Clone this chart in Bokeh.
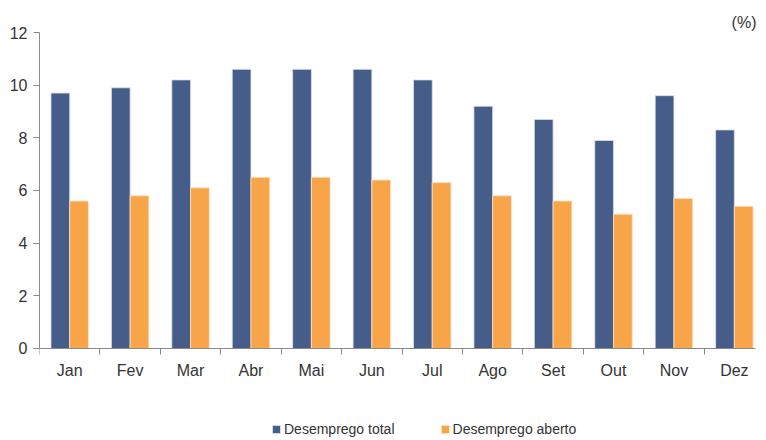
from bokeh.plotting import figure
from bokeh.models import Range1d, FixedTicker, Legend, LegendItem, ColumnDataSource
from bokeh.embed import file_html
from bokeh.resources import INLINE

months = ["Jan", "Fev", "Mar", "Abr", "Mai", "Jun", "Jul", "Ago", "Set", "Out", "Nov", "Dez"]
total = [9.7, 9.9, 10.2, 10.6, 10.6, 10.6, 10.2, 9.2, 8.7, 7.9, 9.6, 8.3]
aberto = [5.6, 5.8, 6.1, 6.5, 6.5, 6.4, 6.3, 5.8, 5.6, 5.1, 5.7, 5.4]
y_ticks = [0, 2, 4, 6, 8, 10, 12]

BLUE = "#465C89"
ORANGE = "#F8A54A"
FONT = "Liberation Sans"
bw = 0.31

centers = [i + 0.5 for i in range(len(months))]
src = ColumnDataSource(dict(
    xt=[c - bw / 2 for c in centers],
    xa=[c + bw / 2 for c in centers],
    total=total,
    aberto=aberto,
))

p = figure(frame_width=716, frame_height=405, output_backend="svg", toolbar_location=None,
           x_range=Range1d(0, 11.85), y_range=Range1d(-3.38, 12),
           title="(%)", title_location="above",
           min_border_left=39, min_border_right=6, min_border_top=32, min_border_bottom=0)
p.outline_line_color = None
p.grid.grid_line_color = None
p.background_fill_color = "white"

p.title.align = "right"
p.title.text_font = FONT
p.title.text_font_size = "16px"
p.title.text_font_style = "normal"
p.title.text_color = "#333333"
p.title.standoff = 3
p.title.offset = -1

r1 = p.vbar(x="xt", width=bw, top="total", bottom=0, source=src,
            fill_color=BLUE, line_color="#DDE2EA", line_width=0.8)
r2 = p.vbar(x="xa", width=bw, top="aberto", bottom=0, source=src,
            fill_color=ORANGE, line_color="#FCE3C6", line_width=0.8)

# x axis, drawn at y = 0 inside the frame
p.xaxis.fixed_location = 0
p.xaxis.ticker = FixedTicker(ticks=centers, minor_ticks=list(range(0, 13)))
p.xaxis.major_label_overrides = {c: m for c, m in zip(centers, months)}
p.xaxis.major_tick_line_color = None
p.xaxis.minor_tick_in = 0
p.xaxis.minor_tick_out = 6
p.xaxis.minor_tick_line_color = "#8A8A8A"
p.xaxis.axis_line_color = "#8A8A8A"
p.xaxis.major_label_standoff = 8
p.xaxis.major_label_text_font = FONT
p.xaxis.major_label_text_font_size = "16px"
p.xaxis.major_label_text_color = "#333333"

# y axis
p.yaxis.bounds = (0, 12)
p.yaxis.ticker = FixedTicker(ticks=y_ticks)
p.yaxis.minor_tick_line_color = None
p.yaxis.major_tick_in = 0
p.yaxis.major_tick_out = 6
p.yaxis.major_tick_line_color = "#8A8A8A"
p.yaxis.axis_line_color = "#8A8A8A"
p.yaxis.major_label_standoff = 6
p.yaxis.major_label_text_font = FONT
p.yaxis.major_label_text_font_size = "16px"
p.yaxis.major_label_text_color = "#333333"

legend = Legend(items=[LegendItem(label="Desemprego total", renderers=[r1]),
                       LegendItem(label="Desemprego aberto", renderers=[r2])],
                orientation="horizontal", location=(232, 0),
                label_text_font=FONT, label_text_font_size="14px", label_text_color="#333333",
                glyph_width=10, glyph_height=10, label_standoff=3, spacing=45,
                border_line_color=None, background_fill_alpha=0, padding=0, margin=0)
p.add_layout(legend)

open("out.html", "w").write(file_html(p, INLINE))
